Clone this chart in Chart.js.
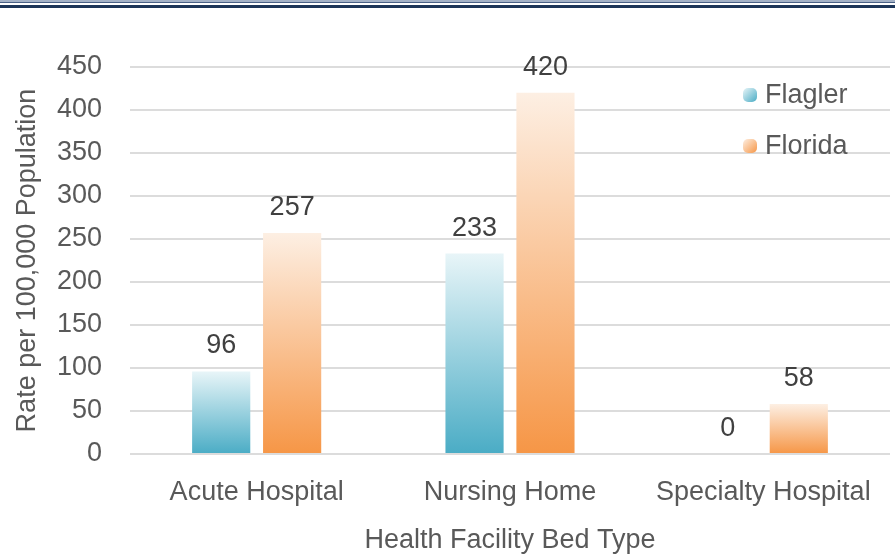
<!DOCTYPE html>
<html>
<head>
<meta charset="utf-8">
<script src="https://cdn.jsdelivr.net/npm/chart.js@4"></script>
<style>
  html, body { margin: 0; padding: 0; background: #fff; }
  #wrap { position: relative; width: 895px; height: 554px; }
  #rule {
    position: absolute; left: 0; top: 0; width: 895px; height: 8px;
    background: linear-gradient(to bottom, #a3b1c6 0, #a3b1c6 2px, #4a6186 2px, #4a6186 3px,
      #fff 3px, #fff 5px, #1c3558 5px, #1c3558 8px);
  }
</style>
</head>
<body>
<div id="wrap">
  <canvas id="chart" width="895" height="554"></canvas>
  <div id="rule"></div>
</div>
<script>
const categories = ['Acute Hospital', 'Nursing Home', 'Specialty Hospital'];
const seriesNames = ['Flagler', 'Florida'];
const flaglerRates = [96, 233, 0];
const floridaRates = [257, 420, 58];
const yMax = 450;
const yStep = 50;

const FONT = '"Liberation Sans", Arial, sans-serif';
const TEXT = '#595959';
const SIZE = 27;

// light top -> strong bottom, like the office gradient fill
const shades = {
  Flagler: ['#e8f5f8', '#4aacc5'],
  Florida: ['#fdefe3', '#f69646']
};

function barFill(c) {
  const chart = c.chart;
  const y = chart.scales.y;
  const pair = shades[c.dataset.label];
  if (!y || c.type !== 'data') return pair[1];
  const top = y.getPixelForValue(c.raw);
  const base = y.getPixelForValue(0);
  if (!isFinite(top) || !isFinite(base) || base - top < 1) return pair[1];
  const g = chart.ctx.createLinearGradient(0, top, 0, base);
  g.addColorStop(0, pair[0]);
  g.addColorStop(1, pair[1]);
  return g;
}

// numbers above the bars
const valueLabels = {
  id: 'valueLabels',
  afterDatasetsDraw(chart) {
    const ctx = chart.ctx;
    ctx.save();
    ctx.font = SIZE + 'px ' + FONT;
    ctx.fillStyle = '#404040';
    ctx.textAlign = 'center';
    ctx.textBaseline = 'alphabetic';
    chart.data.datasets.forEach((ds, i) => {
      chart.getDatasetMeta(i).data.forEach((bar, j) => {
        ctx.fillText(String(ds.data[j]), bar.x, bar.y - 18);
      });
    });
    ctx.restore();
  }
};

// small legend inside the plot, top right
const cornerLegend = {
  id: 'cornerLegend',
  afterDraw(chart, args, opts) {
    const ctx = chart.ctx;
    ctx.save();
    ctx.font = SIZE + 'px ' + FONT;
    ctx.textBaseline = 'middle';
    ctx.textAlign = 'left';
    chart.data.datasets.forEach((ds, i) => {
      const cy = opts.y + i * opts.gap;
      const s = 14;
      const pair = shades[ds.label];
      const g = ctx.createLinearGradient(opts.x, cy - s / 2, opts.x + s, cy + s / 2);
      g.addColorStop(0, pair[0]);
      g.addColorStop(1, pair[1]);
      ctx.fillStyle = g;
      ctx.beginPath();
      ctx.roundRect(opts.x, cy - s / 2, s, s, 5);
      ctx.fill();
      ctx.fillStyle = TEXT;
      ctx.fillText(ds.label, opts.x + 22, cy + 1);
    });
    ctx.restore();
  }
};

new Chart(document.getElementById('chart'), {
  type: 'bar',
  data: {
    labels: categories,
    datasets: [
      { label: seriesNames[0], data: flaglerRates, backgroundColor: barFill },
      { label: seriesNames[1], data: floridaRates, backgroundColor: barFill }
    ]
  },
  options: {
    responsive: false,
    animation: false,
    categoryPercentage: 0.56,
    barPercentage: 0.82,
    layout: { padding: { top: 67, right: 5, left: 0, bottom: 0 } },
    plugins: {
      legend: { display: false },
      tooltip: { enabled: false },
      cornerLegend: { x: 743, y: 95, gap: 51 }
    },
    scales: {
      x: {
        grid: { display: false },
        border: { display: false },
        ticks: { color: TEXT, font: { family: FONT, size: SIZE }, padding: 14 },
        title: {
          display: true, text: 'Health Facility Bed Type', color: TEXT,
          font: { family: FONT, size: SIZE, lineHeight: 1 }, padding: 0
        },
        afterFit(scale) { scale.height = 100; }
      },
      y: {
        min: 0,
        max: yMax,
        grid: { color: '#dcdcdc', lineWidth: 2, drawTicks: false },
        border: { display: false },
        ticks: { stepSize: yStep, color: TEXT, font: { family: FONT, size: SIZE }, padding: 28 },
        title: {
          display: true, text: 'Rate per 100,000 Population', color: TEXT,
          font: { family: FONT, size: SIZE }, padding: { top: 11, bottom: 0 }
        },
        afterFit(scale) { scale.width = 130; }
      }
    }
  },
  plugins: [valueLabels, cornerLegend]
});
</script>
</body>
</html>
